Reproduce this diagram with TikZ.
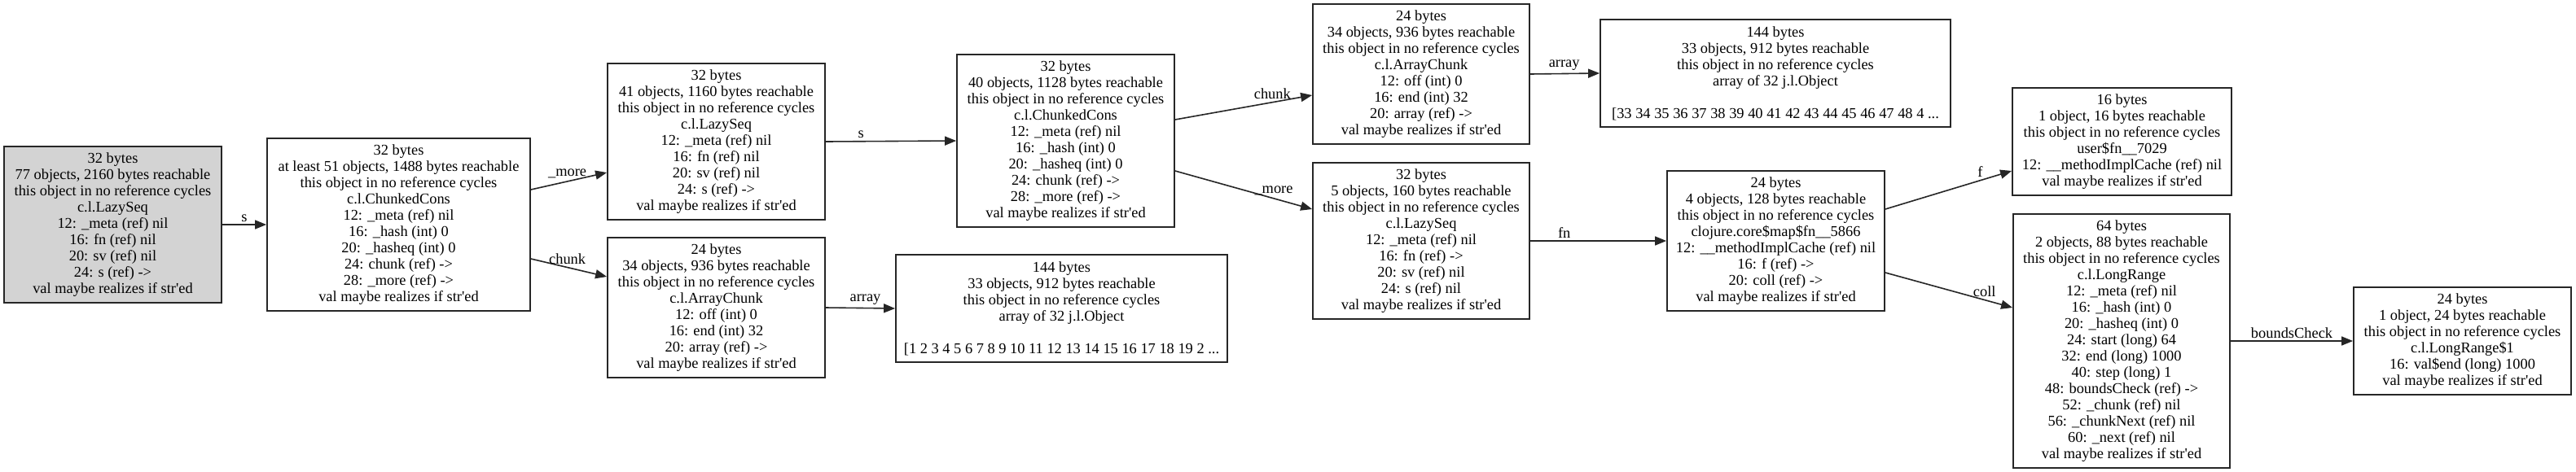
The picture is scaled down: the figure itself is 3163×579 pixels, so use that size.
\documentclass[tikz,border=0pt]{standalone}
\usepackage{fontspec}
\setmainfont{Liberation Serif}
\usetikzlibrary{arrows.meta}

\definecolor{rootgray}{RGB}{211,211,211}
\newcommand{\noref}{this object in no reference cycles}
\newcommand{\strd}{val maybe realizes if str\textquotesingle ed}

\tikzset{
	obj/.style={draw=black!85, line width=0.9pt, align=center, inner sep=0pt, font=\fontsize{9.2pt}{10pt}\selectfont},
	ref/.style={-{Triangle[length=7pt,width=5.5pt]}, line width=0.8pt, draw=black!85},
	lbl/.style={font=\fontsize{9.2pt}{10pt}\selectfont, above, inner sep=1.5pt}
}

\begin{document}
\begin{tikzpicture}[x=0.5pt, y=-0.5pt]
	\useasboundingbox (0,0) rectangle (3163,579);

	\node[obj, fill=rootgray, minimum width=133.5pt, minimum height=96pt] (lazyA) at (138.5,276) {32 bytes\\77 objects, 2160 bytes reachable\\\noref\\c.l.LazySeq\\12: \_meta (ref) nil\\16: fn (ref) nil\\20: sv (ref) nil\\24: s (ref) ->\\\strd};
	\node[obj, minimum width=161.5pt, minimum height=106pt] (consA) at (489.5,276) {32 bytes\\at least 51 objects, 1488 bytes reachable\\\noref\\c.l.ChunkedCons\\12: \_meta (ref) nil\\16: \_hash (int) 0\\20: \_hasheq (int) 0\\24: chunk (ref) ->\\28: \_more (ref) ->\\\strd};
	\node[obj, minimum width=133.5pt, minimum height=96pt] (lazyB) at (879.5,174) {32 bytes\\41 objects, 1160 bytes reachable\\\noref\\c.l.LazySeq\\12: \_meta (ref) nil\\16: fn (ref) nil\\20: sv (ref) nil\\24: s (ref) ->\\\strd};
	\node[obj, minimum width=133.5pt, minimum height=86pt] (chunkA) at (879.5,378) {24 bytes\\34 objects, 936 bytes reachable\\\noref\\c.l.ArrayChunk\\12: off (int) 0\\16: end (int) 32\\20: array (ref) ->\\\strd};
	\node[obj, minimum width=203.5pt, minimum height=66pt] (arrA) at (1303.5,379) {144 bytes\\33 objects, 912 bytes reachable\\\noref\\array of 32 j.l.Object\\[10pt]{[}1 2 3 4 5 6 7 8 9 10 11 12 13 14 15 16 17 18 19 2 ...};
	\node[obj, minimum width=133.5pt, minimum height=106pt] (consB) at (1308.5,173) {32 bytes\\40 objects, 1128 bytes reachable\\\noref\\c.l.ChunkedCons\\12: \_meta (ref) nil\\16: \_hash (int) 0\\20: \_hasheq (int) 0\\24: chunk (ref) ->\\28: \_more (ref) ->\\\strd};
	\node[obj, minimum width=133pt, minimum height=86pt] (chunkB) at (1745,91) {24 bytes\\34 objects, 936 bytes reachable\\\noref\\c.l.ArrayChunk\\12: off (int) 0\\16: end (int) 32\\20: array (ref) ->\\\strd};
	\node[obj, minimum width=215pt, minimum height=66pt] (arrB) at (2180,90) {144 bytes\\33 objects, 912 bytes reachable\\\noref\\array of 32 j.l.Object\\[10pt]{[}33 34 35 36 37 38 39 40 41 42 43 44 45 46 47 48 4 ...};
	\node[obj, minimum width=133pt, minimum height=96pt] (lazyC) at (1745,296) {32 bytes\\5 objects, 160 bytes reachable\\\noref\\c.l.LazySeq\\12: \_meta (ref) nil\\16: fn (ref) ->\\20: sv (ref) nil\\24: s (ref) nil\\\strd};
	\node[obj, minimum width=133.5pt, minimum height=86pt] (mapfn) at (2180.5,296) {24 bytes\\4 objects, 128 bytes reachable\\\noref\\clojure.core\$map\$fn\_\_5866\\12: \_\_methodImplCache (ref) nil\\16: f (ref) ->\\20: coll (ref) ->\\\strd};
	\node[obj, minimum width=134.5pt, minimum height=66pt] (userfn) at (2605.5,174) {16 bytes\\1 object, 16 bytes reachable\\\noref\\user\$fn\_\_7029\\12: \_\_methodImplCache (ref) nil\\\strd};
	\node[obj, minimum width=133pt, minimum height=156pt] (range) at (2605,419) {64 bytes\\2 objects, 88 bytes reachable\\\noref\\c.l.LongRange\\12: \_meta (ref) nil\\16: \_hash (int) 0\\20: \_hasheq (int) 0\\24: start (long) 64\\32: end (long) 1000\\40: step (long) 1\\48: boundsCheck (ref) ->\\52: \_chunk (ref) nil\\56: \_chunkNext (ref) nil\\60: \_next (ref) nil\\\strd};
	\node[obj, minimum width=133.5pt, minimum height=66pt] (bounds) at (3023.5,419) {24 bytes\\1 object, 24 bytes reachable\\\noref\\c.l.LongRange\$1\\16: val\$end (long) 1000\\\strd};

	\draw[ref] (lazyA.east) -- node[lbl]{s} (consA.west);
	\draw[ref] ([yshift=21.5pt]consA.east) -- node[lbl, pos=0.48]{\_more} ([yshift=-19pt]lazyB.west);
	\draw[ref] ([yshift=-21pt]consA.east) -- node[lbl, pos=0.48]{chunk} ([yshift=19pt]chunkA.west);
	\draw[ref] (lazyB.east) -- node[lbl, pos=0.27]{s} (consB.west);
	\draw[ref] (chunkA.east) -- node[lbl, pos=0.57]{array} (arrA.west);
	\draw[ref] ([yshift=13pt]consB.east) -- node[lbl, pos=0.71]{chunk} ([yshift=-13pt]chunkB.west);
	\draw[ref] ([yshift=-18.5pt]consB.east) -- node[lbl, pos=0.72]{\_more} ([yshift=19.5pt]lazyC.west);
	\draw[ref] (chunkB.east) -- node[lbl, pos=0.49]{array} (arrB.west);
	\draw[ref] (lazyC.east) -- node[lbl, pos=0.25]{fn} (mapfn.west);
	\draw[ref] ([yshift=19.5pt]mapfn.east) -- node[lbl, pos=0.75]{f} ([yshift=-18pt]userfn.west);
	\draw[ref] ([yshift=-19.5pt]mapfn.east) -- node[lbl, pos=0.78]{coll} ([yshift=20.5pt]range.west);
	\draw[ref] (range.east) -- node[lbl]{boundsCheck} (bounds.west);
\end{tikzpicture}
\end{document}
